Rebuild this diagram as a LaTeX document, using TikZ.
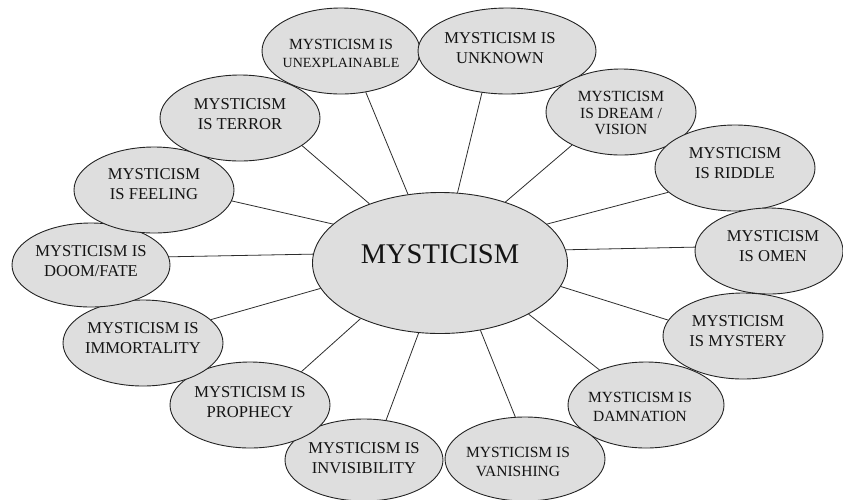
\documentclass[tikz,border=0pt]{standalone}
\usepackage{fontspec}
\setmainfont{Liberation Serif}
\usetikzlibrary{shapes.geometric}
\definecolor{fillc}{RGB}{222,222,222}
\definecolor{edgec}{RGB}{35,35,35}
\definecolor{linkc}{RGB}{45,45,45}
\definecolor{textc}{RGB}{20,20,20}
\tikzset{
  sat/.style={ellipse, draw=edgec, fill=fillc, line width=0.9pt, inner sep=0pt},
  txt/.style={align=center, text=textc, font=\fontsize{16.6}{20}\selectfont, inner sep=0pt},
  smalltxt/.style={txt, font=\fontsize{15.5}{19}\selectfont},
  bigtxt/.style={text=textc, font=\fontsize{28.5}{34}\selectfont, inner sep=0pt},
  link/.style={draw=linkc, line width=0.8pt}
}
\begin{document}
\begin{tikzpicture}[x=1pt,y=-1pt]
\useasboundingbox (0,0) rectangle (843,499);
\node[sat, minimum width=255pt, minimum height=141pt,
  label={[bigtxt,yshift=9pt]center:MYSTICISM}] (c) at (440,263) {};
\node[sat, minimum width=158pt, minimum height=86pt,
  label={[txt,font=\fontsize{15.5}{18}\selectfont,yshift=-2pt]center:{MYSTICISM IS\\\fontsize{14}{18}\selectfont UNEXPLAINABLE}}] (unexp) at (341,51) {};
\node[sat, minimum width=178pt, minimum height=86pt,
  label={[txt,xshift=-7pt,yshift=3pt]center:{MYSTICISM IS\\UNKNOWN}}] (unknown) at (507,51) {};
\node[sat, minimum width=150pt, minimum height=86pt,
  label={[txt,font=\fontsize{15.5}{16.5}\selectfont,yshift=-1pt]center:{MYSTICISM\\IS DREAM /\\VISION}}] (dream) at (621,112) {};
\node[sat, minimum width=160pt, minimum height=86pt,
  label={[txt,yshift=5pt]center:{MYSTICISM\\IS RIDDLE}}] (riddle) at (735,168) {};
\node[sat, minimum width=148pt, minimum height=86pt,
  label={[txt,xshift=4pt,yshift=5pt]center:{MYSTICISM\\IS OMEN}}] (omen) at (769,251) {};
\node[sat, minimum width=160pt, minimum height=86pt,
  label={[txt,xshift=-5pt,yshift=5pt]center:{MYSTICISM\\IS MYSTERY}}] (mystery) at (743,336) {};
\node[sat, minimum width=156pt, minimum height=86pt,
  label={[smalltxt,xshift=-6pt,yshift=-2pt]center:{MYSTICISM IS\\DAMNATION}}] (damn) at (646,405) {};
\node[sat, minimum width=160pt, minimum height=84pt,
  label={[smalltxt,xshift=-7pt,yshift=-3pt]center:{MYSTICISM IS\\VANISHING}}] (vanish) at (525,459) {};
\node[sat, minimum width=158pt, minimum height=82pt,
  label={[txt,yshift=2pt]center:{MYSTICISM IS\\INVISIBILITY}}] (invis) at (364,460) {};
\node[sat, minimum width=160pt, minimum height=86pt,
  label={[txt,yshift=3pt]center:{MYSTICISM IS\\PROPHECY}}] (proph) at (250,405) {};
\node[sat, minimum width=160pt, minimum height=86pt,
  label={[txt,yshift=5pt]center:{MYSTICISM IS\\IMMORTALITY}}] (immort) at (143,343) {};
\node[sat, minimum width=158pt, minimum height=84pt,
  label={[txt,yshift=4pt]center:{MYSTICISM IS\\DOOM/FATE}}] (doom) at (91,265) {};
\node[sat, minimum width=160pt, minimum height=86pt,
  label={[txt,yshift=6pt]center:{MYSTICISM\\IS FEELING}}] (feel) at (154,190) {};
\node[sat, minimum width=160pt, minimum height=86pt,
  label={[txt,yshift=4pt]center:{MYSTICISM\\IS TERROR}}] (terror) at (240,118) {};
\draw[link] (c.115.2) -- (unexp.-59.4);
\draw[link] (c.76.3) -- (unknown.-121.2);
\draw[link] (c.43.2) -- (dream.-146.3);
\draw[link] (c.20.3) -- (riddle.-160.9);
\draw[link] (c.6.7) -- (omen.177.7);
\draw[link] (c.-11.1) -- (mystery.168.1);
\draw[link] (c.-30.6) -- (damn.143.1);
\draw[link] (c.-59.3) -- (vanish.103.4);
\draw[link] (c.-107.4) -- (invis.61.9);
\draw[link] (c.-145.2) -- (proph.33.4);
\draw[link] (c.-168.9) -- (immort.19.7);
\draw[link] (c.176.9) -- (doom.6.5);
\draw[link] (c.160) -- (feel.-8.6);
\draw[link] (c.140.1) -- (terror.-24.7);
\end{tikzpicture}
\end{document}
